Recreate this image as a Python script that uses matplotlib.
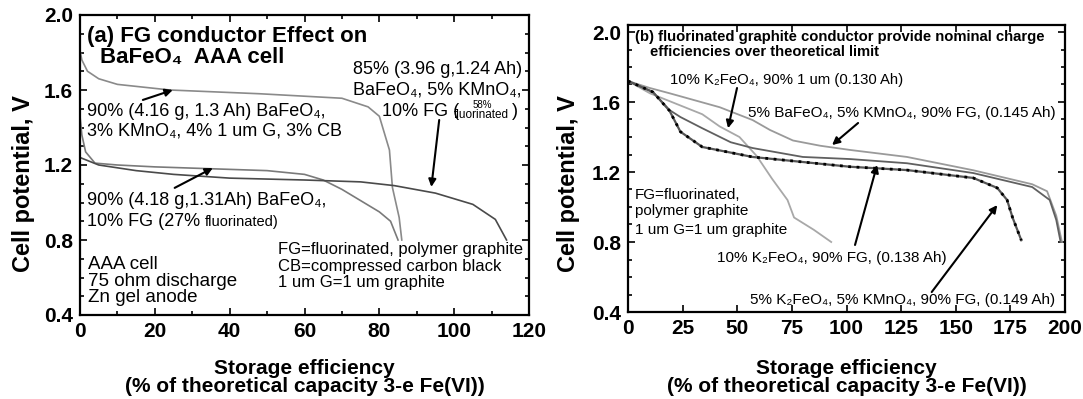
import matplotlib.pyplot as plt
from matplotlib.ticker import MultipleLocator

plt.rcParams['font.family'] = ['Liberation Sans', 'DejaVu Sans']

# ---- panel (a) data: BaFeO4 AAA cells
a1_x = [0, 0.5, 2, 5, 10, 24, 48, 70, 77, 80, 82.7, 83.5, 85.3, 86]
a1_v = [1.81, 1.76, 1.70, 1.66, 1.63, 1.60, 1.58, 1.556, 1.51, 1.46, 1.28, 1.08, 0.92, 0.80]
a2_x = [0, 0.5, 1.5, 4, 10, 20, 35, 50, 60, 65, 70, 75, 80, 83, 85]
a2_v = [1.46, 1.36, 1.27, 1.21, 1.20, 1.19, 1.18, 1.17, 1.15, 1.12, 1.07, 1.01, 0.95, 0.90, 0.80]
a3_x = [0, 5, 15, 25, 40, 60, 75, 84, 95, 105, 111, 114]
a3_v = [1.24, 1.20, 1.17, 1.15, 1.13, 1.12, 1.11, 1.09, 1.05, 0.99, 0.91, 0.80]

# ---- panel (b) data
b130_x = [0, 10, 20, 34, 42, 51, 59, 66, 73, 76, 85, 93]
b130_v = [1.72, 1.65, 1.60, 1.53, 1.46, 1.40, 1.29, 1.16, 1.04, 0.94, 0.87, 0.80]
b145_x = [0, 10, 19, 42, 57, 65, 75.5, 88, 101.6, 127.7, 158, 185, 191.8, 196, 198.6]
b145_v = [1.72, 1.68, 1.65, 1.57, 1.497, 1.44, 1.38, 1.35, 1.326, 1.286, 1.21, 1.13, 1.09, 0.95, 0.80]
b138_x = [0, 11.4, 19, 24, 34, 47, 57, 80, 101.6, 127.7, 158, 185, 193, 196, 198]
b138_v = [1.72, 1.657, 1.554, 1.514, 1.45, 1.37, 1.337, 1.286, 1.274, 1.25, 1.194, 1.114, 1.04, 0.926, 0.80]
b149_x = [0, 11.4, 19, 24, 34, 57, 101.6, 127.7, 158, 169, 173.5, 176, 180]
b149_v = [1.72, 1.657, 1.55, 1.43, 1.343, 1.286, 1.23, 1.211, 1.166, 1.109, 1.04, 0.94, 0.81]

fig = plt.figure(figsize=(10.83, 3.99), dpi=100)
ax1 = fig.add_axes([80 / 1083, 84 / 399, 449 / 1083, 300 / 399])
ax2 = fig.add_axes([628 / 1083, 87 / 399, 437 / 1083, 287 / 399])

for ax in (ax1, ax2):
    for s in ax.spines.values():
        s.set_linewidth(1.6)
    ax.tick_params(which='both', direction='in', top=True, right=True, width=1.2)
    ax.tick_params(which='major', length=5, labelsize=15, pad=5)
    ax.tick_params(which='minor', length=3)
    ax.set_ylabel('Cell potential, V', fontsize=17, fontweight='bold')
    ax.set_xlabel('Storage efficiency\n(% of theoretical capacity 3-e Fe(VI))',
                  fontsize=15, fontweight='bold', linespacing=0.95)

# panel (a)
ax1.plot(a1_x, a1_v, color='#8a8a8a', lw=1.2)
ax1.plot(a2_x, a2_v, color='#7a7a7a', lw=1.2)
ax1.plot(a3_x, a3_v, color='#4a4a4a', lw=1.2)
ax1.set_xlim(0, 120)
ax1.set_ylim(0.4, 2.0)
ax1.set_xticks([0, 20, 40, 60, 80, 100, 120])
ax1.set_yticks([0.4, 0.8, 1.2, 1.6, 2.0])
ax1.xaxis.set_minor_locator(MultipleLocator(10))
ax1.yaxis.set_minor_locator(MultipleLocator(0.1))
ax1.set_xticklabels(['0', '20', '40', '60', '80', '100', '120'], fontweight='bold')
ax1.set_yticklabels(['0.4', '0.8', '1.2', '1.6', '2.0'], fontweight='bold')

ax1.text(0.016, 0.927, '(a) FG conductor Effect on', transform=ax1.transAxes,
         fontsize=16, fontweight='bold', va='center')
ax1.text(0.045, 0.857, 'BaFeO₄  AAA cell', transform=ax1.transAxes,
         fontsize=16, fontweight='bold', va='center')
ax1.text(0.016, 0.677, '90% (4.16 g, 1.3 Ah) BaFeO₄,', transform=ax1.transAxes,
         fontsize=13, va='center')
ax1.text(0.016, 0.613, '3% KMnO₄, 4% 1 um G, 3% CB', transform=ax1.transAxes,
         fontsize=13, va='center')
ax1.text(0.016, 0.383, '90% (4.18 g,1.31Ah) BaFeO₄,', transform=ax1.transAxes,
         fontsize=13, va='center')
t = ax1.text(0.016, 0.31, '10% FG (27% ', transform=ax1.transAxes,
             fontsize=13, va='center')
ax1.annotate('fluorinated)', xy=(1, 0.5), xycoords=t, fontsize=10.5, va='center')
ax1.text(0.984, 0.817, '85% (3.96 g,1.24 Ah)', transform=ax1.transAxes,
         fontsize=13, va='center', ha='right')
ax1.text(0.984, 0.75, 'BaFeO₄, 5% KMnO₄,', transform=ax1.transAxes,
         fontsize=13, va='center', ha='right')
ax1.text(0.672, 0.68, '10% FG (', transform=ax1.transAxes, fontsize=13, va='center')
ax1.text(0.895, 0.70, '58%', transform=ax1.transAxes, fontsize=7, va='center', ha='center')
ax1.text(0.895, 0.668, 'fluorinated', transform=ax1.transAxes, fontsize=8.5, va='center', ha='center')
ax1.text(0.962, 0.68, ')', transform=ax1.transAxes, fontsize=13, va='center')
ax1.text(0.441, 0.217, 'FG=fluorinated, polymer graphite', transform=ax1.transAxes,
         fontsize=12, va='center')
ax1.text(0.441, 0.16, 'CB=compressed carbon black', transform=ax1.transAxes,
         fontsize=12, va='center')
ax1.text(0.441, 0.107, '1 um G=1 um graphite', transform=ax1.transAxes,
         fontsize=12, va='center')
ax1.text(0.018, 0.167, 'AAA cell', transform=ax1.transAxes, fontsize=13.5, va='center')
ax1.text(0.018, 0.113, '75 ohm discharge', transform=ax1.transAxes, fontsize=13.5, va='center')
ax1.text(0.018, 0.057, 'Zn gel anode', transform=ax1.transAxes, fontsize=13.5, va='center')

arrow = dict(arrowstyle='-|>', color='black', lw=1.5, mutation_scale=11, shrinkA=0, shrinkB=0)
ax1.annotate('', xy=(24.8, 1.60), xytext=(16.8, 1.547), arrowprops=arrow)
ax1.annotate('', xy=(35.5, 1.184), xytext=(25.3, 1.078), arrowprops=arrow)
ax1.annotate('', xy=(93.9, 1.083), xytext=(96, 1.44), arrowprops=arrow)

# panel (b)
ax2.plot(b130_x, b130_v, color='#a8a8a8', lw=1.3)
ax2.plot(b145_x, b145_v, color='#9a9a9a', lw=1.3)
ax2.plot(b138_x, b138_v, color='#606060', lw=1.3)
ax2.plot(b149_x, b149_v, color='#555555', lw=1.6)
ax2.plot(b149_x, b149_v, color='black', lw=2, ls=(0, (1, 2)))
ax2.set_xlim(0, 200)
ax2.set_ylim(0.4, 2.04)
ax2.set_xticks([0, 25, 50, 75, 100, 125, 150, 175, 200])
ax2.set_yticks([0.4, 0.8, 1.2, 1.6, 2.0])
ax2.yaxis.set_minor_locator(MultipleLocator(0.1))
ax2.set_xticklabels(['0', '25', '50', '75', '100', '125', '150', '175', '200'], fontweight='bold')
ax2.set_yticklabels(['0.4', '0.8', '1.2', '1.6', '2.0'], fontweight='bold')

ax2.text(0.016, 0.958, '(b) fluorinated graphite conductor provide nominal charge',
         transform=ax2.transAxes, fontsize=10.7, fontweight='bold', va='center')
ax2.text(0.05, 0.906, 'efficiencies over theoretical limit',
         transform=ax2.transAxes, fontsize=10.7, fontweight='bold', va='center')
ax2.text(0.096, 0.808, '10% K₂FeO₄, 90% 1 um (0.130 Ah)', transform=ax2.transAxes,
         fontsize=10.7, va='center')
ax2.text(0.275, 0.693, '5% BaFeO₄, 5% KMnO₄, 90% FG, (0.145 Ah)', transform=ax2.transAxes,
         fontsize=11, va='center')
ax2.text(0.016, 0.408, 'FG=fluorinated,', transform=ax2.transAxes, fontsize=11, va='center')
ax2.text(0.016, 0.352, 'polymer graphite', transform=ax2.transAxes, fontsize=11, va='center')
ax2.text(0.016, 0.286, '1 um G=1 um graphite', transform=ax2.transAxes, fontsize=11, va='center')
ax2.text(0.204, 0.188, '10% K₂FeO₄, 90% FG, (0.138 Ah)', transform=ax2.transAxes,
         fontsize=11, va='center')
ax2.text(0.279, 0.042, '5% K₂FeO₄, 5% KMnO₄, 90% FG, (0.149 Ah)', transform=ax2.transAxes,
         fontsize=11, va='center')

ax2.annotate('', xy=(45.8, 1.45), xytext=(49.9, 1.68), arrowprops=arrow)
ax2.annotate('', xy=(93.4, 1.354), xytext=(105.3, 1.48), arrowprops=arrow)
ax2.annotate('', xy=(114, 1.24), xytext=(103.9, 0.783), arrowprops=arrow)
ax2.annotate('', xy=(169, 1.011), xytext=(139, 0.514), arrowprops=arrow)

ax1.yaxis.set_label_coords(-45 / 449, 0.437)
ax2.yaxis.set_label_coords(-48 / 437, 0.446)
ax1.xaxis.set_label_coords(0.5, -44 / 300)
ax2.xaxis.set_label_coords(0.5, -47 / 287)
ax1.xaxis.label.set_va('top')
ax2.xaxis.label.set_va('top')

fig.savefig('out.png', dpi=100)
